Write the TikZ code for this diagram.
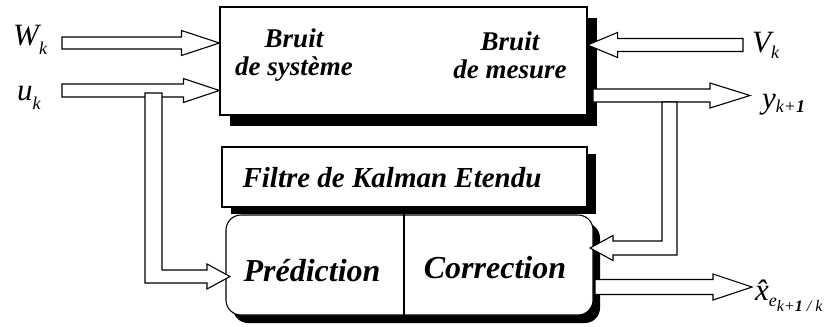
\documentclass[tikz,border=0pt]{standalone}
\usepackage{fontspec}
\setmainfont{Liberation Serif}
\usetikzlibrary{shadows,calc}

% small lowered index for the signal names
\newcommand\lowsub[2]{\raisebox{#1}{\fontsize{18}{18}\selectfont #2}}

% straight hollow arrow: tail, tip, half shaft, half head, head length
\newcommand\hollowarrow[5]{%
  \draw[hollow] let \p1=(#1), \p2=(#2), \n1={sign(\x2-\x1)} in
    (\x1,\y2+#3) -- (\x2-\n1*#5,\y2+#3) -- (\x2-\n1*#5,\y2+#4) -- (\p2)
    -- (\x2-\n1*#5,\y2-#4) -- (\x2-\n1*#5,\y2-#3) -- (\x1,\y2-#3) -- cycle;}

% bent hollow arrow: top of the branch, tip, half width, half shaft, half head, head length
\newcommand\hollowbend[6]{%
  \draw[hollow] let \p1=(#1), \p2=(#2), \n1={sign(\x2-\x1)} in
    (\x1-\n1*#3,\y1) -- (\x1-\n1*#3,\y2-#4) -- (\x2-\n1*#6,\y2-#4)
    -- (\x2-\n1*#6,\y2-#5) -- (\p2) -- (\x2-\n1*#6,\y2+#5)
    -- (\x2-\n1*#6,\y2+#4) -- (\x1+\n1*#3,\y2+#4) -- (\x1+\n1*#3,\y1) -- cycle;}

\tikzset{
  box/.style 2 args={draw,line width=1.1pt,fill=white,
    drop shadow={shadow xshift=#1,shadow yshift=-#2,fill=black,opacity=1}},
  hollow/.style={draw,line width=1.1pt,fill=white,line join=miter},
  lbl/.style={font=\bfseries\itshape\fontsize{27}{28}\selectfont,align=center,inner sep=0pt},
  sig/.style={font=\itshape\fontsize{31}{31}\selectfont,inner sep=0pt,anchor=base west},
}

\begin{document}
\begin{tikzpicture}[x=1pt,y=-1pt]
\useasboundingbox (0,0) rectangle (839,327);

% blocks
\node[box={10pt}{11pt},minimum width=367pt,minimum height=108pt] (sys) at (403.5,61) {};
\node[box={9pt}{7pt},minimum width=365pt,minimum height=60pt] (ekf) at (404.5,177) {};
\node[box={7pt}{8pt},rounded corners=15pt,minimum width=367pt,minimum height=100pt] (filt) at (409.5,265) {};
\coordinate (cut) at (404,265);
\draw[line width=1.1pt] (cut |- filt.north) -- (cut |- filt.south);

% block texts
\node[lbl] (bsys) at (294,55) {Bruit\\ de système};
\node[lbl] (bmes) at (510,55) {Bruit\\ de mesure};
\node[lbl,font=\bfseries\itshape\fontsize{29}{29}\selectfont] (title) at (392,178) {Filtre de Kalman Etendu};
\node[lbl,font=\bfseries\itshape\fontsize{32}{32}\selectfont] (pred) at (312,271) {Prédiction};
\node[lbl,font=\bfseries\itshape\fontsize{32}{32}\selectfont] (corr) at (495,268) {Correction};

% signals
\node[sig] (wk) at (13,45) {W\lowsub{-9pt}{k}};
\node[sig] (uk) at (17,100) {u\lowsub{-9pt}{k}};
\node[sig] (vk) at (752,52) {V\lowsub{-6pt}{k}};
\node[sig] (yk) at (762,108) {y\lowsub{-4pt}{k+\textbf{1}}};
\node[sig] (xe) at (755,300) {\^{x}\lowsub{-6pt}{e\lowsub{-5pt}{\fontsize{16}{16}\selectfont k+\textbf{1} / k}}};

\coordinate (win) at (62,43);
\coordinate (uin) at (62,90.5);
\coordinate (ubr) at (153.5,93);
\coordinate (ptip) at (230,276.5);
\coordinate (vin) at (743,45);
\coordinate (yout) at (593,95.5);
\coordinate (yend) at (750,95.5);
\coordinate (ybr) at (669.5,102);
\coordinate (ctip) at (590,248);
\coordinate (xout) at (595,287);
\coordinate (xend) at (752,287);

% connectors
\hollowarrow{win}{sys.west |- win}{6pt}{12.5pt}{38pt}
\hollowarrow{uin}{sys.west |- uin}{6.5pt}{12pt}{36pt}
\hollowbend{ubr}{ptip}{8.5pt}{6.5pt}{12.5pt}{23pt}
\hollowarrow{vin}{sys.east |- vin}{6.5pt}{12.5pt}{30pt}
\hollowarrow{yout}{yend}{6.5pt}{12.5pt}{40pt}
\hollowbend{ybr}{ctip}{7.5pt}{7pt}{12.5pt}{23pt}
\hollowarrow{xout}{xend}{7.5pt}{13pt}{39pt}
\end{tikzpicture}
\end{document}
